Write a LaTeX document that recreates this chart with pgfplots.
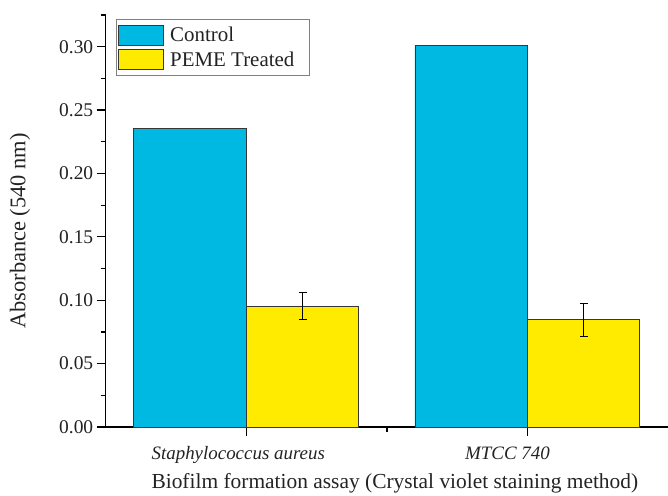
\documentclass[border=0pt]{standalone}
\usepackage{pgfplots}
\pgfplotsset{compat=1.18}
\usepackage{fontspec}
\setmainfont{Liberation Serif}
\definecolor{ctrl}{RGB}{0,185,227}
\definecolor{peme}{RGB}{255,235,0}
\definecolor{edge}{RGB}{55,55,55}
\definecolor{txt}{RGB}{35,35,35}
\begin{document}
\begin{tikzpicture}
\begin{axis}[
  scale only axis, width=562.3bp, height=412bp,
  at={(0,0)}, anchor=south west,
  xmin=-0.5, xmax=1.5, ymin=0, ymax=0.325,
  axis lines=left,
  axis line style={line width=1.3bp, -, black},
  xtick={0,1},
  xticklabels={\textit{Staphylococcus aureus}\hspace*{16bp}, \textit{MTCC 740}\hspace*{40bp}},
  minor xtick={0.5},
  ytick={0,0.05,0.10,0.15,0.20,0.25,0.30},
  minor ytick={0.025,0.075,0.125,0.175,0.225,0.275,0.325},
  tick align=outside,
  major tick length=9bp, minor tick length=5bp,
  every tick/.style={black, line width=1.3bp},
  yticklabel style={font=\fontsize{19.5}{21}\selectfont, text=txt, /pgf/number format/.cd, assume math mode=true, fixed, fixed zerofill, precision=2},
  xticklabel style={font=\fontsize{19}{21}\selectfont, text=txt, yshift=-7bp},
  xlabel={Biofilm formation assay (Crystal violet staining method)},
  ylabel={Absorbance (540 nm)},
  xlabel style={font=\fontsize{21.5}{24}\selectfont, text=txt, at={(rel axis cs:0.5,0)}, anchor=base, yshift=-61bp, xshift=8bp},
  ylabel style={font=\fontsize{22.5}{26}\selectfont, text=txt, at={(axis description cs:-0.1524,0.4757)}, anchor=center},
  legend style={at={(0.0183,0.990)}, anchor=north west, draw=gray, line width=0.8bp,
    font=\fontsize{21}{24}\selectfont, text=txt, inner xsep=2bp, inner ysep=5bp, row sep=4bp},
  legend cell align=left,
]
\addplot[ybar, bar width=0.4, bar shift=0, fill=ctrl, draw=edge, line width=0.8bp,
  legend image code/.code={\draw[fill=ctrl,draw=edge,line width=0.8bp] (0bp,-10bp) rectangle (45bp,10bp); \path (49bp,0);}]
  coordinates {(-0.2,0.2355) (0.8,0.301)};
\addlegendentry{Control}
\addplot[ybar, bar width=0.4, bar shift=0, fill=peme, draw=edge, line width=0.8bp,
  legend image code/.code={\draw[fill=peme,draw=edge,line width=0.8bp] (0bp,-10bp) rectangle (45bp,10bp); \path (49bp,0);},
  error bars/.cd, y dir=both, y explicit,
  error bar style={black, line width=0.8bp},
  error mark options={rotate=90, mark size=4bp, black, line width=0.8bp}]
  coordinates {(0.2,0.0955) +- (0,0.0105) (1.2,0.0848) +- (0,0.013)};
\addlegendentry{PEME Treated\hspace*{11bp}}
\end{axis}
\pgfresetboundingbox
\path[use as bounding box] (-105.7bp,-69bp) rectangle (562.3bp,427bp);
\end{tikzpicture}
\end{document}
